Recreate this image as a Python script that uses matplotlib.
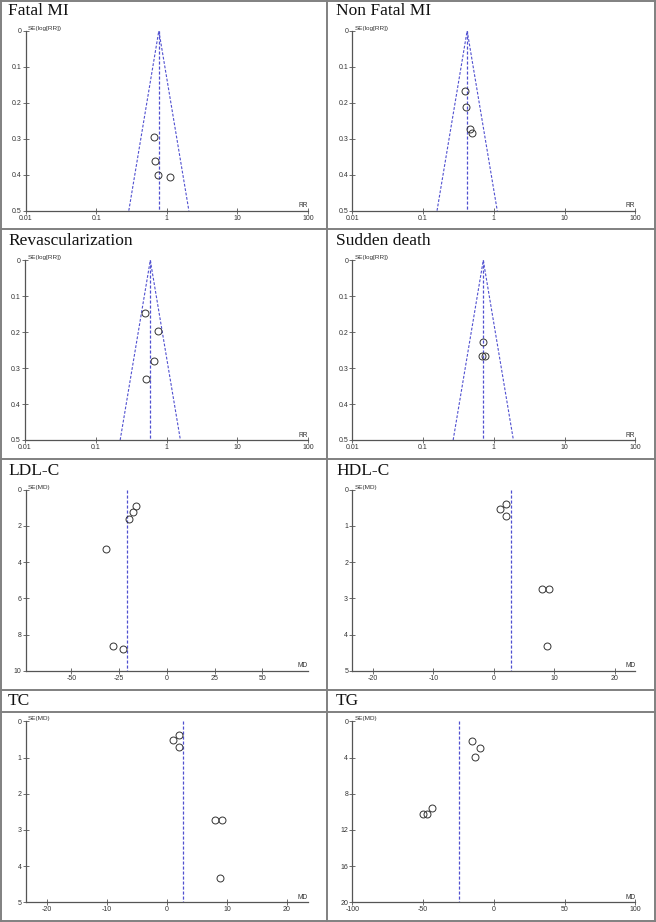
import numpy as np
import matplotlib
matplotlib.use("Agg")
import matplotlib.pyplot as plt
from matplotlib.lines import Line2D

plt.rcParams["axes.unicode_minus"] = False

## data ##

fatal_rr = [0.66, 0.68, 0.75, 1.11]
fatal_se = [0.294, 0.362, 0.400, 0.406]
fatal_pooled = 0.77

nonfatal_rr = [0.39, 0.40, 0.46, 0.49]
nonfatal_se = [0.167, 0.212, 0.273, 0.285]
nonfatal_pooled = 0.42

revasc_rr = [0.50, 0.75, 0.66, 0.52]
revasc_se = [0.147, 0.198, 0.279, 0.329]
revasc_pooled = 0.59

sudden_rr = [0.71, 0.68, 0.75]
sudden_se = [0.227, 0.267, 0.267]
sudden_pooled = 0.71

ldl_md = [-16.1, -17.5, -20.0, -32.0, -28.0, -22.8]
ldl_se = [0.88, 1.23, 1.60, 3.28, 8.66, 8.80]
ldl_pooled = -20.7

hdl_md = [2.05, 1.0, 2.05, 8.03, 9.09, 8.86]
hdl_se = [0.39, 0.52, 0.72, 2.73, 2.73, 4.33]
hdl_pooled = 2.77

tc_md = [2.05, 1.05, 2.05, 8.03, 9.14, 8.86]
tc_se = [0.38, 0.52, 0.71, 2.72, 2.72, 4.33]
tc_pooled = 2.77

tg_md = [-15.2, -9.8, -13.1, -43.5, -50.1, -47.0]
tg_se = [2.14, 2.95, 3.90, 9.58, 10.24, 10.24]
tg_pooled = -24.4

rr_ticks = [0.01, 0.1, 1, 10, 100]
rr_ticklabels = ["0.01", "0.1", "1", "10", "100"]

W, H = 656, 922
fig = plt.figure(figsize=(W / 100, H / 100), dpi=100)
fig.patch.set_facecolor("white")

BLUE = "#5050d0"
GRID = "#808080"
AXC = "#555555"


def pix_axes(l, t, r, b):
    # axes placed by pixel box (left, top, right, bottom)
    return fig.add_axes([l / W, 1 - b / H, (r - l) / W, (b - t) / H])


def style(ax, xlabel, ylabel):
    for s in ["top", "right"]:
        ax.spines[s].set_visible(False)
    for s in ["left", "bottom"]:
        ax.spines[s].set_color(AXC)
        ax.spines[s].set_linewidth(0.9)
    ax.tick_params(direction="inout", length=4, width=0.6, color=AXC,
                   labelsize=5, labelcolor="#333333", pad=1)
    ax.text(0.008, 1.0, ylabel, transform=ax.transAxes, fontsize=4.6,
            color="#333333", ha="left", va="bottom", family="Liberation Sans")
    ax.text(1.0, 0.008, xlabel, transform=ax.transAxes, fontsize=4.8,
            color="#333333", ha="right", va="bottom", family="Liberation Sans")
    for lab in ax.get_xticklabels() + ax.get_yticklabels():
        lab.set_family("Liberation Sans")


def rr_panel(box, rr, se, pooled):
    ax = pix_axes(*box)
    ax.set_xscale("log")
    ax.set_xlim(0.01, 100)
    ax.set_ylim(0.5, 0)
    ax.set_xticks(rr_ticks)
    ax.set_xticklabels(rr_ticklabels)
    ax.minorticks_off()
    ax.set_yticks([0, 0.1, 0.2, 0.3, 0.4, 0.5])
    ax.set_yticklabels(["0", "0.1", "0.2", "0.3", "0.4", "0.5"])
    # pseudo 95% limits
    lo = pooled * np.exp(-1.96 * 0.5)
    hi = pooled * np.exp(1.96 * 0.5)
    ax.plot([pooled, pooled], [0, 0.5], color=BLUE, lw=0.9, dashes=(2.5, 1.5))
    ax.plot([lo, pooled, hi], [0.5, 0, 0.5], color=BLUE, lw=0.8, dashes=(2.5, 1.5))
    ax.plot(rr, se, "o", mfc="none", mec="#333333", ms=5, mew=0.7)
    style(ax, "RR", "SE(log[RR])")
    return ax


def md_panel(box, md, se, pooled, xlim, xticks, ymax, yticks):
    ax = pix_axes(*box)
    ax.set_xlim(*xlim)
    ax.set_ylim(ymax, 0)
    ax.set_xticks(xticks)
    ax.set_yticks(yticks)
    ax.plot([pooled, pooled], [0, ymax], color=BLUE, lw=0.9, dashes=(2.5, 1.5))
    ax.plot(md, se, "o", mfc="none", mec="#333333", ms=5, mew=0.7)
    style(ax, "MD", "SE(MD)")
    return ax


rr_panel((25.7, 30.7, 308, 210.7), fatal_rr, fatal_se, fatal_pooled)
rr_panel((352.3, 30.7, 635.3, 210.7), nonfatal_rr, nonfatal_se, nonfatal_pooled)
rr_panel((25, 260.3, 308, 440), revasc_rr, revasc_se, revasc_pooled)
rr_panel((352.3, 260.3, 635.3, 440), sudden_rr, sudden_se, sudden_pooled)

md_panel((25.7, 489.7, 308, 670.7), ldl_md, ldl_se, ldl_pooled,
         (-74, 74), [-50, -25, 0, 25, 50], 10, [0, 2, 4, 6, 8, 10])
md_panel((352.3, 489.7, 635.3, 670.7), hdl_md, hdl_se, hdl_pooled,
         (-23.4, 23.4), [-20, -10, 0, 10, 20], 5, [0, 1, 2, 3, 4, 5])
md_panel((25.7, 721.3, 308, 902.3), tc_md, tc_se, tc_pooled,
         (-23.5, 23.5), [-20, -10, 0, 10, 20], 5, [0, 1, 2, 3, 4, 5])
md_panel((352.3, 721.3, 635.3, 902.3), tg_md, tg_se, tg_pooled,
         (-100, 100), [-100, -50, 0, 50, 100], 20, [0, 4, 8, 12, 16, 20])

## panel titles ##
titles = ["Fatal MI", "Non Fatal MI", "Revascularization", "Sudden death",
          "LDL-C", "HDL-C", "TC", "TG"]
title_x = [8, 336]
title_y = [11, 241, 471, 700.5]
for i, t in enumerate(titles):
    fig.text(title_x[i % 2] / W, 1 - title_y[i // 2] / H, t, fontsize=12.5,
             family="Liberation Serif", ha="left", va="center", color="#111111")

## table grid ##
def hline(y, x0=0, x1=W):
    fig.add_artist(Line2D([x0 / W, x1 / W], [1 - y / H, 1 - y / H],
                          color=GRID, lw=1.4, transform=fig.transFigure))


def vline(x, y0=0, y1=H):
    fig.add_artist(Line2D([x / W, x / W], [1 - y0 / H, 1 - y1 / H],
                          color=GRID, lw=1.4, transform=fig.transFigure))


for y in [0.7, 229, 459, 690, 712, 920.5]:
    hline(y)
for x in [0.7, 327, 655.3]:
    vline(x, 0.7, 920.5)

fig.savefig("out.png", dpi=100, facecolor="white")
